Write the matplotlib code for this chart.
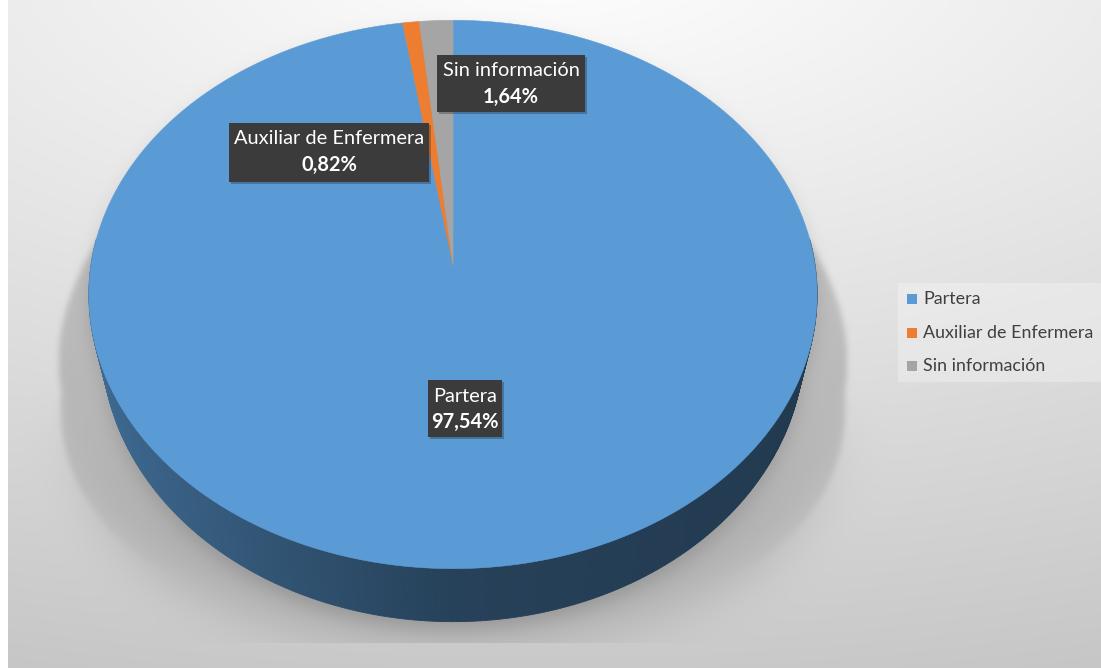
import numpy as np
import matplotlib
matplotlib.use("Agg")
import matplotlib.pyplot as plt
from matplotlib.patches import Polygon, Rectangle
from matplotlib.collections import PolyCollection
from matplotlib.path import Path

# Data
categories = ["Partera", "Auxiliar de Enfermera", "Sin información"]
counts = [119, 1, 2]
colors = ["#5b9bd5", "#ed7d31", "#a5a5a5"]

W, H = 1101, 668
fig = plt.figure(figsize=(W / 100, H / 100), dpi=100)
ax = fig.add_axes([0, 0, 1, 1])
ax.set_xlim(0, W)
ax.set_ylim(H, 0)
ax.axis("off")

FONT = "Lato"

# ---- perspective pie geometry ----
CX, CY = 453.0, 265.0      # projected centre of the top face
RX, RY = 362.0, 271.0      # radii of the disc before perspective
K = 0.1075                 # perspective strength
DEPTH = 47.3               # thickness of the disc
SHRINK = 0.035             # bottom face appears slightly narrower (farther away)


def project(theta, drop=0.0):
    """theta measured clockwise from 12 o'clock (radians)."""
    X = np.sin(theta)
    Z = np.cos(theta)
    w = 1.0 + K * Z
    s = 1.0 - SHRINK * drop / DEPTH
    return CX + s * RX * X / w, CY - RY * Z / w + drop / w


# ---- background gradient and cast shadow ----
yy, xx = np.mgrid[0:H, 0:W].astype(float)
d = np.sqrt(((xx - 550) * 0.45) ** 2 + (yy + 50) ** 2)
bg = np.clip(255 - 0.075 * d, 0, 255) / 255.0

t_all = np.linspace(0, 2 * np.pi, 600)
top_x, top_y = project(t_all)
bot_x, bot_y = project(t_all, DEPTH)


def raster(px, py):
    path = Path(np.column_stack([px, py]))
    pts = np.column_stack([xx.ravel() + 0.5, yy.ravel() + 0.5])
    return path.contains_points(pts).reshape(H, W).astype(float)


def blur(img, sigma):
    pad = int(3 * sigma) + 2
    p = np.pad(img, pad, mode="constant")
    h, w = p.shape
    ky = np.fft.fftfreq(h)
    kx = np.fft.rfftfreq(w)
    G = np.exp(-2 * (np.pi * sigma) ** 2 * (ky[:, None] ** 2 + kx[None, :] ** 2))
    out = np.fft.irfft2(np.fft.rfft2(p) * G, s=p.shape)
    return out[pad:-pad, pad:-pad]


def shadow_mask(dy, widen):
    def warp(px, py):
        sy = py + dy
        sx = CX + (px - CX) * widen(sy)
        return sx, sy
    a = raster(*warp(top_x, top_y))
    b = raster(*warp(bot_x, bot_y))
    return np.maximum(a, b)


# large perspective shadow, widening towards the bottom
m = shadow_mask(22, lambda y: 0.985 + 0.00068 * (y - 195))
m_sharp = blur(m, 3)
m_soft = blur(m, 24)
wgt = np.clip((yy - 380) / 200.0, 0, 1)
shadow = (1 - wgt) * m_sharp + wgt * m_soft
# close contact shadow just under the disc
m2 = blur(shadow_mask(8, lambda y: 1.0), 9)
shade = 1 - 0.16 * shadow - 0.12 * m2
shade[yy >= 643] = 1.0
img = bg * shade
img[:, :8] = 1.0
ax.imshow(np.dstack([img] * 3), extent=(0, W, H, 0), interpolation="bilinear",
          zorder=0, aspect="auto")

# ---- slices ----
total = float(sum(counts))
fracs = np.array(counts) / total
edges = np.concatenate([[0.0], np.cumsum(fracs)]) * 2 * np.pi


def slice_index(theta):
    t = np.mod(theta, 2 * np.pi)
    return np.clip(np.searchsorted(edges, t, side="right") - 1, 0, len(counts) - 1)


# side wall
N = 720
ts = np.linspace(0, 2 * np.pi, N + 1)
quads, qcols = [], []
for a, b in zip(ts[:-1], ts[1:]):
    if np.cos(0.5 * (a + b)) > 0.1:
        continue
    x1, y1 = project(a)
    x2, y2 = project(b)
    x3, y3 = project(b, DEPTH)
    x4, y4 = project(a, DEPTH)
    quads.append([(x1, y1), (x2, y2), (x3, y3), (x4, y4)])
    X = np.sin(0.5 * (a + b))
    f = 0.42 - 0.27 * X if X < 0 else 0.42 - 0.05 * X
    base = np.array(matplotlib.colors.to_rgb(colors[slice_index(0.5 * (a + b))]))
    qcols.append(np.clip(base * f, 0, 1))
ax.add_collection(PolyCollection(quads, facecolors=qcols, edgecolors=qcols,
                                 linewidths=0.6, zorder=2))

# top face
for i, c in enumerate(colors):
    th = np.linspace(edges[i], edges[i + 1], max(3, int(400 * fracs[i]) + 3))
    px, py = project(th)
    verts = np.column_stack([np.concatenate([[CX], px]), np.concatenate([[CY], py])])
    ax.add_patch(Polygon(verts, closed=True, facecolor=c, edgecolor=c,
                         linewidth=0.4, zorder=3))

# ---- data labels ----
label_boxes = [
    (428, 380, 502, 437),   # Partera
    (229, 123, 429, 182),   # Auxiliar de Enfermera
    (437, 55, 585, 112),    # Sin información
]
for name, cnt, (x0, y0, x1, y1) in zip(categories, counts, label_boxes):
    pct = f"{100 * cnt / total:.2f}%".replace(".", ",")
    ax.add_patch(Rectangle((x0 + 2, y0 + 2), x1 - x0, y1 - y0, facecolor="black",
                           alpha=0.25, edgecolor="none", zorder=4))
    ax.add_patch(Rectangle((x0, y0), x1 - x0, y1 - y0, facecolor="#3b3b3b",
                           edgecolor="none", zorder=5))
    xc = 0.5 * (x0 + x1)
    ax.text(xc, y0 + 16, name, color="white", fontsize=14.4, family=FONT,
            ha="center", va="center", zorder=6)
    ax.text(xc, y0 + 42, pct, color="white", fontsize=14.4, family=FONT,
            fontweight="bold", ha="center", va="center", zorder=6)

# ---- legend ----
ax.add_patch(Rectangle((898, 283), 203, 99, facecolor="white", alpha=0.28,
                       edgecolor="none", zorder=4))
for j, (name, c) in enumerate(zip(categories, colors)):
    yc = 299 + 33.5 * j
    ax.add_patch(Rectangle((907, yc - 5), 10, 10, facecolor=c, edgecolor="none", zorder=5))
    ax.text(923, yc, name, color="#404040", fontsize=12.9, family=FONT,
            ha="left", va="center", zorder=5)

fig.savefig("out.png", dpi=100)
